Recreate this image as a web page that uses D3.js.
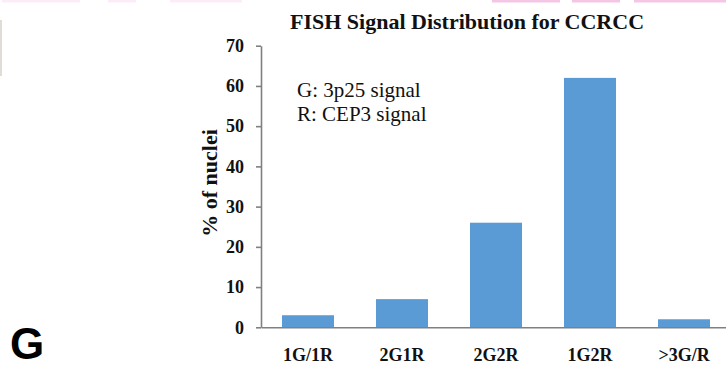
<!DOCTYPE html>
<html>
<head>
<meta charset="utf-8">
<script src="https://cdn.jsdelivr.net/npm/d3@7"></script>
<style>
  body { margin: 0; background: #fff; }
  svg { display: block; }
  .tick text { font-family: "Liberation Serif", "Times New Roman", serif; font-weight: bold; fill: #111; }
</style>
</head>
<body>
<svg id="chart" width="726" height="366"></svg>
<script>
// data
var categories = ["1G/1R", "2G1R", "2G2R", "1G2R", ">3G/R"];
var pctNuclei = [3, 7, 26, 62, 2];
var yTicks = [0, 10, 20, 30, 40, 50, 60, 70];
var legendLines = ["G: 3p25 signal", "R: CEP3 signal"];

var svg = d3.select("#chart");
var width = 726, height = 366;
var margin = {top: 45.7, bottom: 38.7, left: 261, right: -5};

var x = d3.scaleBand()
  .domain(categories)
  .range([margin.left, width - margin.right])
  .paddingInner(0.447)
  .paddingOuter(0.2235);
var y = d3.scaleLinear()
  .domain([0, 70])
  .range([height - margin.bottom, margin.top]);

// bits of the neighbouring panel cut off at the top edge
var strips = [[2, 80], [108, 136], [170, 242], [492, 560], [572, 620], [634, 726]];
svg.selectAll(".strip")
  .data(strips)
  .enter()
    .append("rect")
    .attr("class", "strip")
    .attr("x", function(d) { return d[0]; })
    .attr("y", 0)
    .attr("width", function(d) { return d[1] - d[0]; })
    .attr("height", 2.5)
    .attr("fill", function(d) { return d[0] > 480 ? "#e070c0" : "#f6c8ec"; })
    .attr("opacity", function(d) { return d[0] > 480 ? 0.4 : 0.35; });
svg.append("line")
  .attr("x1", 1).attr("x2", 1)
  .attr("y1", 20).attr("y2", 76)
  .attr("stroke", "#d6d2cc")
  .attr("stroke-width", 1.5);

// bars
svg.selectAll(".bar")
  .data(pctNuclei)
  .enter()
    .append("rect")
    .attr("class", "bar")
    .attr("x", function(d, i) { return x(categories[i]); })
    .attr("y", function(d) { return y(d); })
    .attr("width", x.bandwidth())
    .attr("height", function(d) { return y(0) - y(d); })
    .attr("fill", "#5b9bd5");

// y axis
var yAxis = svg.append("g")
  .attr("transform", "translate(" + margin.left + ",0)")
  .call(d3.axisLeft(y).tickValues(yTicks).tickSize(5).tickSizeOuter(0).tickPadding(12));
yAxis.selectAll("line, path").attr("stroke", "#808080").attr("stroke-width", 1.6);
yAxis.selectAll("text").style("font-size", "18px");

// x axis
var xAxis = svg.append("g")
  .attr("transform", "translate(0," + y(0) + ")")
  .call(d3.axisBottom(x).tickSize(0).tickSizeOuter(0).tickPadding(21));
xAxis.selectAll("path").attr("stroke", "#808080").attr("stroke-width", 1.6);
xAxis.selectAll("text").attr("dy", "0.71em").style("font-size", "18px");

// title
svg.append("text")
  .attr("x", 467)
  .attr("y", 29)
  .style("text-anchor", "middle")
  .style("font-family", "'Liberation Serif', 'Times New Roman', serif")
  .style("font-weight", "bold")
  .style("font-size", "22px")
  .attr("fill", "#111")
  .text("FISH Signal Distribution for CCRCC");

// y label
svg.append("text")
  .attr("transform", "rotate(-90)")
  .attr("x", -183)
  .attr("y", 217)
  .style("text-anchor", "middle")
  .style("font-family", "'Liberation Serif', 'Times New Roman', serif")
  .style("font-weight", "bold")
  .style("font-size", "22px")
  .attr("fill", "#111")
  .text("% of nuclei");

// legend text
svg.selectAll(".legend")
  .data(legendLines)
  .enter()
    .append("text")
    .attr("class", "legend")
    .attr("x", 297)
    .attr("y", function(d, i) { return 97 + i * 24; })
    .style("font-family", "'Liberation Serif', 'Times New Roman', serif")
    .style("font-size", "21px")
    .attr("fill", "#111")
    .text(function(d) { return d; });

// panel letter
svg.append("text")
  .attr("x", 10)
  .attr("y", 359)
  .style("font-family", "'Liberation Sans', Arial, sans-serif")
  .style("font-weight", "bold")
  .style("font-size", "44px")
  .attr("fill", "#000")
  .text("G");
</script>
</body>
</html>
